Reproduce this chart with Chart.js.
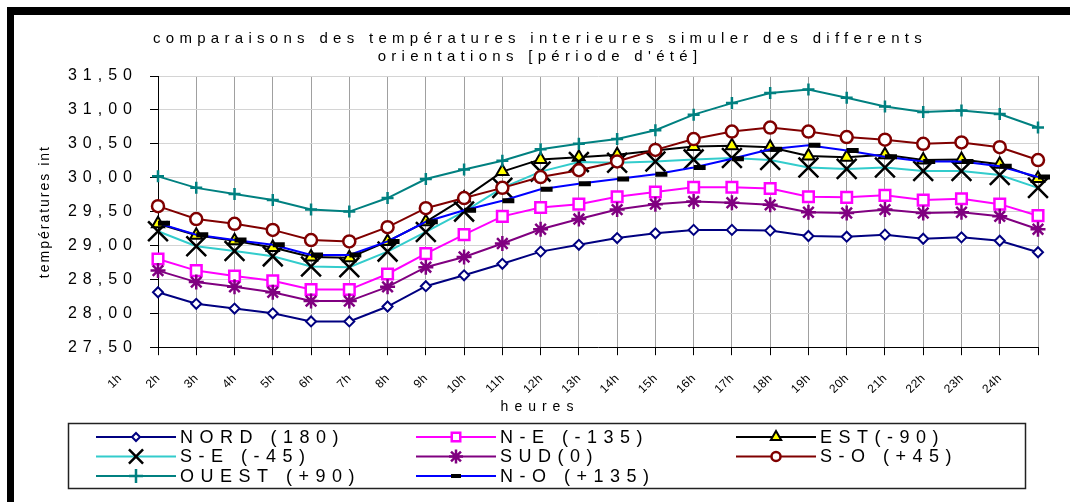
<!DOCTYPE html>
<html>
<head>
<meta charset="utf-8">
<script src="https://cdn.jsdelivr.net/npm/chart.js"></script>
<style>
body { margin: 0; background: #fff; }
#wrap { position: relative; width: 1070px; height: 502px; overflow: hidden; }
#cadre { position: absolute; left: 7px; top: 7px; right: 0; bottom: 0; border-top: 8px solid #000; border-left: 7px solid #000; }
canvas { position: absolute; left: 0; top: 0; }
</style>
</head>
<body>
<div id="wrap">
  <div id="cadre"></div>
  <canvas id="graphique" width="1070" height="502"></canvas>
</div>
<script>
// heures de la journée
const heures = ['1h', '2h', '3h', '4h', '5h', '6h', '7h', '8h', '9h', '10h', '11h', '12h',
  '13h', '14h', '15h', '16h', '17h', '18h', '19h', '20h', '21h', '22h', '23h', '24h'];

const orientations = ['NORD (180)', 'N-E (-135)', 'EST(-90)', 'S-E (-45)', 'SUD(0)', 'S-O (+45)', 'OUEST (+90)', 'N-O (+135)'];

// températures intérieures simulées (°C)
const nord      = [28.31, 28.14, 28.07, 28.00, 27.88, 27.88, 28.10, 28.40, 28.56, 28.73, 28.91, 29.01, 29.11, 29.18, 29.23, 29.23, 29.22, 29.14, 29.13, 29.16, 29.10, 29.12, 29.07, 28.90];
const nordEst   = [28.80, 28.63, 28.55, 28.48, 28.35, 28.35, 28.58, 28.88, 29.16, 29.43, 29.56, 29.61, 29.72, 29.79, 29.86, 29.86, 29.84, 29.72, 29.71, 29.74, 29.67, 29.69, 29.61, 29.44];
const est       = [29.32, 29.15, 29.07, 28.97, 28.83, 28.82, 29.06, 29.35, 29.70, 30.09, 30.27, 30.30, 30.34, 30.40, 30.46, 30.47, 30.45, 30.32, 30.30, 30.34, 30.26, 30.27, 30.20, 29.99];
const sudEst    = [29.21, 28.99, 28.92, 28.84, 28.69, 28.68, 28.91, 29.20, 29.50, 29.85, 30.09, 30.23, 30.22, 30.24, 30.27, 30.29, 30.26, 30.15, 30.13, 30.15, 30.10, 30.10, 30.04, 29.85];
const sud       = [28.63, 28.46, 28.39, 28.31, 28.18, 28.18, 28.39, 28.68, 28.83, 29.03, 29.24, 29.39, 29.53, 29.61, 29.65, 29.63, 29.60, 29.49, 29.48, 29.53, 29.48, 29.49, 29.43, 29.24];
const sudOuest  = [29.58, 29.39, 29.32, 29.23, 29.08, 29.06, 29.27, 29.55, 29.70, 29.85, 30.01, 30.11, 30.24, 30.41, 30.57, 30.68, 30.74, 30.68, 30.60, 30.56, 30.50, 30.52, 30.45, 30.26];
const ouest     = [30.02, 29.85, 29.76, 29.67, 29.53, 29.50, 29.70, 29.98, 30.12, 30.25, 30.42, 30.50, 30.57, 30.70, 30.93, 31.10, 31.25, 31.30, 31.18, 31.05, 30.97, 30.99, 30.94, 30.74];
const nordOuest = [29.33, 29.16, 29.08, 29.01, 28.86, 28.86, 29.06, 29.35, 29.52, 29.66, 29.83, 29.91, 29.98, 30.05, 30.15, 30.28, 30.42, 30.48, 30.40, 30.31, 30.24, 30.24, 30.17, 30.01];

const series = [nord, nordEst, est, sudEst, sud, sudOuest, ouest, nordOuest];

// style of each series: line colour, marker, marker colours
const styles = [
  { line: '#000080', style: 'rectRot', r: 5, fill: '#fff', stroke: '#000080', w: 2, lr: 4 },
  { line: '#ff00ff', style: 'rect', r: 7.5, fill: '#fff', stroke: '#ff00ff', w: 2.5, lr: 6 },
  { line: '#000000', style: 'triangle', r: 7, fill: '#ffff00', stroke: '#000', w: 2, lr: 6 },
  { line: '#33cccc', style: 'crossRot', r: 14, fill: '#000', stroke: '#000', w: 2.5, lr: 10 },
  { line: '#800080', style: 'star', r: 7.5, fill: '#800080', stroke: '#800080', w: 2.5, lr: 7 },
  { line: '#800000', style: 'circle', r: 6, fill: '#fff', stroke: '#800000', w: 2.5, lr: 4.5 },
  { line: '#008080', style: 'cross', r: 6, fill: '#008080', stroke: '#008080', w: 2.5, lr: 7 },
  { line: '#0000ff', style: 'dash', r: 12, fill: '#000', stroke: '#000', w: 5, lr: 10 }
];

Chart.defaults.font.family = '"Liberation Sans", Arial, sans-serif';
Chart.defaults.color = '#000';

const withSpacing = (obj, name, ls) => {
  const fn = obj[name];
  obj[name] = function (...args) {
    const prev = this.ctx.letterSpacing;
    this.ctx.letterSpacing = ls;
    const res = fn.apply(this, args);
    this.ctx.letterSpacing = prev;
    return res;
  };
};

// Excel-like wide letter spacing
const spacing = {
  id: 'spacing',
  beforeUpdate(chart) { chart.ctx.letterSpacing = '6px'; },
  beforeLayout(chart) {
    const x = chart.scales.x, y = chart.scales.y;
    if (!x._spaced) {
      withSpacing(x, 'update', '0.5px');
      withSpacing(x, 'drawLabels', '0.5px');
      withSpacing(y, 'drawTitle', '2px');
      withSpacing(chart.titleBlock, 'fit', '5.3px');
      withSpacing(chart.titleBlock, 'draw', '5.3px');
      x._spaced = true;
    }
  },
  beforeDraw(chart) { chart.ctx.letterSpacing = '6px'; }
};

// boxed legend, 3 columns
const legende = {
  id: 'legende',
  afterDraw(chart) {
    const ctx = chart.ctx;
    const h = Chart.helpers;
    ctx.save();
    ctx.strokeStyle = '#222';
    ctx.lineWidth = 1.5;
    ctx.strokeRect(68.5, 423.5, 957, 65);
    ctx.font = '18px "Liberation Sans", Arial, sans-serif';
    ctx.letterSpacing = '6.5px';
    ctx.textBaseline = 'middle';
    ctx.fillStyle = '#000';
    chart.data.datasets.forEach((ds, i) => {
      const st = styles[i];
      const x0 = 96 + (i % 3) * 320;
      const y = 437 + Math.floor(i / 3) * 19.5;
      ctx.strokeStyle = st.line;
      ctx.lineWidth = 2;
      ctx.beginPath();
      ctx.moveTo(x0, y);
      ctx.lineTo(x0 + 80, y);
      ctx.stroke();
      if (h && h.drawPoint) {
        ctx.fillStyle = st.fill;
        ctx.strokeStyle = st.stroke;
        ctx.lineWidth = st.style === 'dash' ? 4 : st.w;
        const px = st.style === 'dash' ? x0 + 40 - st.lr / 2 : x0 + 40;
        h.drawPoint(ctx, { pointStyle: st.style, radius: st.lr, rotation: 0, borderWidth: st.w }, px, y);
      }
      ctx.fillStyle = '#000';
      ctx.fillText(ds.label, x0 + 84, y + 1);
    });
    ctx.restore();
  }
};

const datasets = series.map((values, i) => ({
  label: orientations[i],
  data: values,
  order: series.length - i,
  borderColor: styles[i].line,
  borderWidth: 2,
  tension: 0,
  fill: false,
  pointStyle: styles[i].style,
  pointRadius: styles[i].r,
  pointBackgroundColor: styles[i].fill,
  pointBorderColor: styles[i].stroke,
  pointBorderWidth: styles[i].w
}));

new Chart(document.getElementById('graphique'), {
  type: 'line',
  data: { labels: heures, datasets: datasets },
  plugins: [spacing, legende],
  options: {
    responsive: false,
    animation: false,
    events: [],
    devicePixelRatio: 1,
    layout: { padding: { left: 14, top: 15, right: 4, bottom: 82 } },
    plugins: {
      legend: { display: false },
      tooltip: { enabled: false },
      title: {
        display: true,
        text: ['comparaisons des températures interieures simuler des differents', 'orientations [période d\'été]'],
        font: { size: 15, weight: 'normal', lineHeight: '18px' },
        color: '#000',
        padding: { top: 15, bottom: 10 }
      },
      subtitle: {
        display: true,
        position: 'bottom',
        text: 'heures',
        font: { size: 14, weight: 'normal' },
        color: '#000',
        padding: { top: 6, bottom: 4 }
      }
    },
    scales: {
      x: {
        grid: { color: '#a0a0a0', tickColor: '#000', tickLength: 8 },
        border: { color: '#000' },
        ticks: { autoSkip: false, minRotation: 45, maxRotation: 45, labelOffset: -38, padding: 16, font: { size: 12 } },
        afterFit(s) { s.height = 46; }
      },
      y: {
        min: 27.5,
        max: 31.5,
        grid: { color: '#d4d4d4', tickColor: '#000', tickLength: 8 },
        border: { color: '#000' },
        ticks: { stepSize: 0.5, padding: 12, font: { size: 16 }, callback: v => v.toFixed(2).replace('.', ',') },
        title: { display: true, text: 'températures int', font: { size: 14 }, padding: { top: 23, bottom: 0 } },
        afterFit(s) { s.width = 144; }
      },
      droite: {
        type: 'linear',
        position: 'right',
        display: true,
        grid: { display: false },
        border: { display: false },
        ticks: { display: false },
        afterFit(s) { s.width = 28; }
      }
    }
  }
});
</script>
</body>
</html>
